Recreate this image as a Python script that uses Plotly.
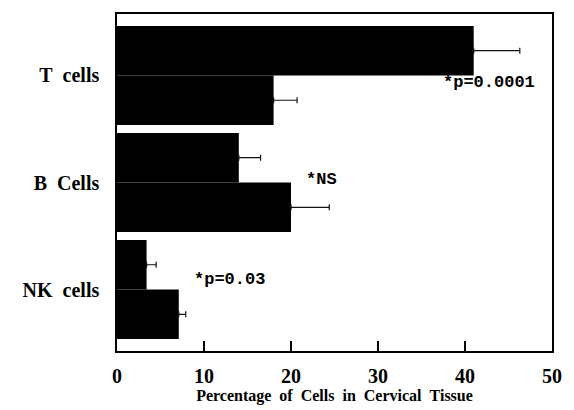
import plotly.graph_objects as go

categories = ["NK cells", "B Cells", "T cells"]
tick_labels = ["NK\u00a0\u00a0cells", "B\u00a0\u00a0Cells", "T\u00a0\u00a0cells"]
top_values = [3.4, 14.0, 41.0]
top_errors = [1.1, 2.5, 5.3]
bottom_values = [7.1, 20.0, 18.0]
bottom_errors = [0.8, 4.4, 2.7]
x_ticks = [0, 10, 20, 30, 40, 50]
x_title = "Percentage\u00a0\u00a0of\u00a0\u00a0Cells\u00a0\u00a0in\u00a0\u00a0Cervical\u00a0\u00a0Tissue"
notes = ["*p=0.03", "*NS", "*p=0.0001"]
note_x = [8.6, 21.5, 37.2]
note_y = [0.09, 1.03, 1.935]

serif = "Liberation Serif, Times New Roman, serif"

fig = go.Figure()
for vals, errs in [(bottom_values, bottom_errors), (top_values, top_errors)]:
    fig.add_trace(go.Bar(
        y=categories, x=vals, orientation="h",
        marker=dict(color="black", line=dict(width=0)),
        error_x=dict(type="data", array=errs, arrayminus=[0] * len(errs),
                     symmetric=False, color="#111111", thickness=1.2, width=3),
        showlegend=False,
    ))

for t, x, y in zip(notes, note_x, note_y):
    fig.add_annotation(x=x, y=y, xref="x", yref="y", text="<b>" + t + "</b>",
                       showarrow=False, xanchor="left", yanchor="middle",
                       font=dict(family="Liberation Mono, Courier New, monospace",
                                 size=17, color="black"))

fig.update_layout(
    width=574, height=410,
    margin=dict(l=117, r=13, t=13, b=56),
    paper_bgcolor="white", plot_bgcolor="white",
    barmode="group", bargap=0.074, bargroupgap=0,
    font=dict(family=serif, color="black"),
    xaxis=dict(
        range=[0, 50], tickvals=x_ticks,
        ticktext=["<b>%d</b>" % v for v in x_ticks],
        ticks="inside", ticklen=10, tickwidth=1.5, tickcolor="black",
        showline=True, linecolor="black", linewidth=1.5, mirror=True,
        showgrid=False, zeroline=False, ticklabelstandoff=6,
        tickfont=dict(family=serif, size=20, color="black"),
        title=dict(text="<b>" + x_title + "</b>",
                   font=dict(family=serif, size=16, color="black"), standoff=0),
    ),
    yaxis=dict(
        type="category", categoryorder="array", categoryarray=categories,
        tickvals=categories, ticktext=["<b>%s</b>" % t for t in tick_labels],
        range=[-0.574, 2.574],
        ticks="", showline=True, linecolor="black", linewidth=1.5, mirror=True,
        showgrid=False, zeroline=False, ticklabelstandoff=12,
        tickfont=dict(family=serif, size=20, color="black"),
    ),
)

fig.write_html("out.html", config={"displayModeBar": False},
               post_script="document.body.style.margin='0';")
